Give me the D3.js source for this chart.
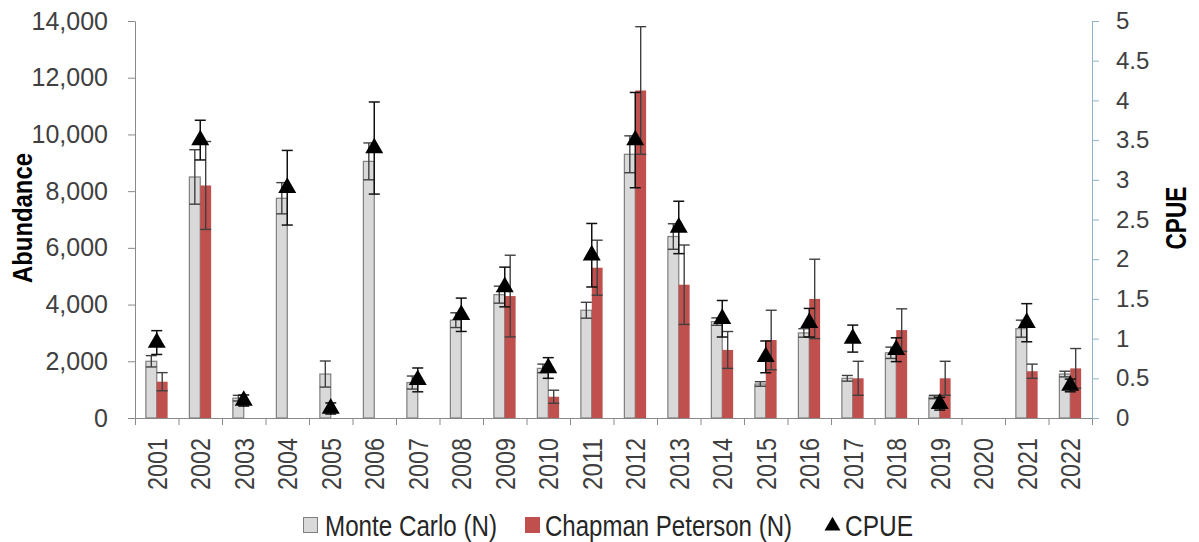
<!DOCTYPE html>
<html>
<head>
<meta charset="utf-8">
<script src="https://cdn.jsdelivr.net/npm/d3@7"></script>
<style>
  body { margin: 0; background: #fff; }
  svg { display: block; font-family: "Liberation Sans", Arial, sans-serif; }
</style>
</head>
<body>
<div id="chart"></div>
<script>
// abundance estimates (Monte Carlo, Chapman Peterson) with CPUE on the right axis

const years = ['2001','2002','2003','2004','2005','2006','2007','2008','2009','2010','2011',
               '2012','2013','2014','2015','2016','2017','2018','2019','2020','2021','2022'];

const monteCarlo    = [2000, 8500, 700, 7750, 1550, 9050, 1250, 3450, 4350, 1750, 3800,
                       9300, 6400, 3400, 1200, 3000, 1400, 2300, 740, null, 3150, 1550];
const monteCarloErr = [200, 960, 100, 550, 460, 650, 230, 260, 300, 150, 280,
                       650, 450, 130, 80, 150, 100, 200, 60, null, 300, 100];

const chapman    = [1280, 8200, null, null, null, null, null, null, 4300, 750, 5300,
                    11550, 4700, 2400, 2750, 4200, 1400, 3100, 1400, null, 1650, 1750];
const chapmanErr = [320, 1550, null, null, null, null, null, null, 1440, 230, 970,
                    2250, 1400, 650, 1050, 1400, 600, 750, 600, null, 250, 700];

const cpue    = [0.95, 3.5, 0.22, 2.9, 0.12, 3.4, 0.48, 1.3, 1.65, 0.63, 2.05,
                 3.5, 2.4, 1.25, 0.77, 1.2, 1.0, 0.86, 0.18, null, 1.2, 0.41];
const cpueErr = [0.15, 0.25, 0.07, 0.47, 0.07, 0.58, 0.15, 0.21, 0.25, 0.13, 0.4,
                 0.6, 0.33, 0.23, 0.2, 0.18, 0.17, 0.15, 0.08, null, 0.24, 0.08];

const leftTicks  = d3.range(0, 14001, 2000);
const rightTicks = d3.range(0, 5.01, 0.5);

const width = 1199, height = 542;
const plotLeft = 135, plotRight = 1092, plotTop = 21, plotBottom = 418;

const svg = d3.select('#chart').append('svg')
    .attr('width', width)
    .attr('height', height);

svg.append('rect').attr('width', width).attr('height', height).attr('fill', '#fff');

const x = d3.scaleBand()
    .domain(years)
    .range([plotLeft, plotRight])
    .paddingInner(0.5)
    .paddingOuter(0.25);

const xSub = d3.scaleBand()
    .domain(['mc', 'cp'])
    .range([0, x.bandwidth()]);

// boundaries between categories for the small x ticks
const xEdge = d3.scaleLinear().domain([0, years.length]).range([plotLeft, plotRight]);

const yLeft = d3.scaleLinear().domain([0, 14000]).range([plotBottom, plotTop]);
const yRight = d3.scaleLinear().domain([0, 5]).range([plotBottom, plotTop]);

const rows = years.map((yr, i) => ({
    year: yr,
    mc: monteCarlo[i], mcErr: monteCarloErr[i],
    cp: chapman[i], cpErr: chapmanErr[i],
    cpue: cpue[i], cpueErr: cpueErr[i]
}));

// x axis: tick marks between categories
svg.append('g')
    .attr('transform', `translate(0,${plotBottom})`)
    .call(d3.axisBottom(xEdge).tickValues(d3.range(years.length + 1)).tickFormat('').tickSize(7).tickSizeOuter(0))
    .call(g => g.selectAll('line').attr('stroke', '#8a8a8a'))
    .call(g => g.select('.domain').attr('stroke', '#8a8a8a'));

// x axis labels (rotated years)
svg.append('g')
    .attr('transform', `translate(0,${plotBottom})`)
    .call(d3.axisBottom(x).tickSize(0).tickPadding(0))
    .call(g => g.select('.domain').remove())
    .selectAll('text')
    .attr('font-size', 28)
    .attr('fill', '#404040')
    .attr('textLength', 52)
    .attr('lengthAdjust', 'spacingAndGlyphs')
    .attr('text-anchor', 'end')
    .attr('dy', null)
    .attr('y', 0)
    .attr('transform', 'translate(10,20) rotate(-90)');

// left axis
svg.append('g')
    .attr('transform', `translate(${plotLeft},0)`)
    .call(d3.axisLeft(yLeft).tickValues(leftTicks).tickFormat(d3.format(',')).tickSize(7).tickSizeOuter(0).tickPadding(20))
    .call(g => g.selectAll('line').attr('stroke', '#8a8a8a'))
    .call(g => g.select('.domain').attr('stroke', '#8a8a8a'))
    .selectAll('text')
    .attr('font-size', 25)
    .attr('fill', '#404040');

// right axis
svg.append('g')
    .attr('transform', `translate(${plotRight},0)`)
    .call(d3.axisRight(yRight).tickValues(rightTicks).tickFormat(d => d).tickSize(7).tickSizeOuter(0).tickPadding(17))
    .call(g => g.selectAll('line').attr('stroke', '#8fb2c9'))
    .call(g => g.select('.domain').attr('stroke', '#8fb2c9'))
    .selectAll('text')
    .attr('font-size', 24)
    .attr('fill', '#404040');

// axis titles
svg.append('text')
    .attr('transform', 'translate(32,218) rotate(-90)')
    .attr('text-anchor', 'middle')
    .attr('font-size', 28)
    .attr('font-weight', 'bold')
    .attr('textLength', 130)
    .attr('lengthAdjust', 'spacingAndGlyphs')
    .text('Abundance');

svg.append('text')
    .attr('transform', 'translate(1186,218) rotate(-90)')
    .attr('text-anchor', 'middle')
    .attr('font-size', 29)
    .attr('font-weight', 'bold')
    .attr('textLength', 63)
    .attr('lengthAdjust', 'spacingAndGlyphs')
    .text('CPUE');

// bars
const bars = svg.append('g');
bars.selectAll('rect.mc')
    .data(rows.filter(d => d.mc != null))
    .join('rect')
    .attr('class', 'mc')
    .attr('x', d => x(d.year) + xSub('mc'))
    .attr('y', d => yLeft(d.mc))
    .attr('width', xSub.bandwidth())
    .attr('height', d => yLeft(0) - yLeft(d.mc))
    .attr('fill', '#d9d9d9')
    .attr('stroke', '#7f7f7f')
    .attr('stroke-width', 1.2);

bars.selectAll('rect.cp')
    .data(rows.filter(d => d.cp != null))
    .join('rect')
    .attr('class', 'cp')
    .attr('x', d => x(d.year) + xSub('cp'))
    .attr('y', d => yLeft(d.cp))
    .attr('width', xSub.bandwidth())
    .attr('height', d => yLeft(0) - yLeft(d.cp))
    .attr('fill', '#c0504d');

function errorBars(g, data, cx, yScale, val, err, color, sw) {
    const capW = 11;
    const sel = g.selectAll(null).data(data).join('g');
    sel.append('line')
        .attr('x1', cx).attr('x2', cx)
        .attr('y1', d => yScale(d[val] + d[err]))
        .attr('y2', d => yScale(Math.max(0, d[val] - d[err])));
    sel.append('line')
        .attr('x1', d => cx(d) - capW / 2).attr('x2', d => cx(d) + capW / 2)
        .attr('y1', d => yScale(d[val] + d[err])).attr('y2', d => yScale(d[val] + d[err]));
    sel.append('line')
        .attr('x1', d => cx(d) - capW / 2).attr('x2', d => cx(d) + capW / 2)
        .attr('y1', d => yScale(d[val] - d[err])).attr('y2', d => yScale(d[val] - d[err]));
    sel.selectAll('line').attr('stroke', color).attr('stroke-width', sw);
}

const errG = svg.append('g');
errorBars(errG, rows.filter(d => d.mc != null), d => x(d.year) + xSub('mc') + xSub.bandwidth() / 2,
    yLeft, 'mc', 'mcErr', '#404040', 1.4);
errorBars(errG, rows.filter(d => d.cp != null), d => x(d.year) + xSub('cp') + xSub.bandwidth() / 2,
    yLeft, 'cp', 'cpErr', '#404040', 1.4);
errorBars(errG, rows.filter(d => d.cpue != null), d => x(d.year) + x.bandwidth() / 2,
    yRight, 'cpue', 'cpueErr', '#111', 1.5);

// CPUE triangles
svg.append('g')
    .selectAll('path')
    .data(rows.filter(d => d.cpue != null))
    .join('path')
    .attr('d', d3.symbol(d3.symbolTriangle, 140))
    .attr('transform', d => `translate(${x(d.year) + x.bandwidth() / 2},${yRight(d.cpue)})`)
    .attr('fill', '#000');

// legend
const legendItems = [
    {label: 'Monte Carlo (N)', kind: 'mc', x: 303, len: 172},
    {label: 'Chapman Peterson (N)', kind: 'cp', x: 525, len: 247},
    {label: 'CPUE', kind: 'cpue', x: 825, len: 68}
];
const legend = svg.append('g').attr('transform', 'translate(0,525)');
const li = legend.selectAll('g').data(legendItems).join('g')
    .attr('transform', d => `translate(${d.x},0)`);
li.filter(d => d.kind === 'mc').append('rect')
    .attr('x', 0.5).attr('y', -7.5).attr('width', 14).attr('height', 15)
    .attr('fill', '#d9d9d9').attr('stroke', '#7f7f7f');
li.filter(d => d.kind === 'cp').append('rect')
    .attr('x', 0).attr('y', -8).attr('width', 15).attr('height', 16)
    .attr('fill', '#c0504d');
li.filter(d => d.kind === 'cpue').append('path')
    .attr('d', d3.symbol(d3.symbolTriangle, 110))
    .attr('transform', 'translate(7.5,1)')
    .attr('fill', '#000');
li.append('text')
    .attr('x', d => d.kind === 'mc' ? 22 : 20)
    .attr('y', 11)
    .attr('font-size', 29)
    .attr('fill', '#262626')
    .attr('textLength', d => d.len)
    .attr('lengthAdjust', 'spacingAndGlyphs')
    .text(d => d.label);
</script>
</body>
</html>
